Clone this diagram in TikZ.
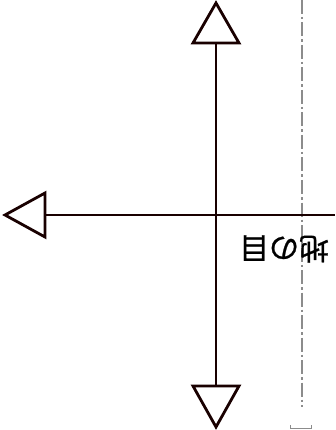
\documentclass[tikz,border=0pt]{standalone}
\usepackage{fontspec}
\newfontfamily\jpfont[FakeBold=0.8]{Noto Sans CJK JP}
\begin{document}
\begin{tikzpicture}[x=1pt,y=-1pt,
  arrowline/.style={line width=2.8pt,draw=black!90!red},
  tri/.style={line width=2.8pt,draw=black!90!red,fill=white,line join=miter},
  grain/.style={draw=black!45,line width=2.2pt,dash pattern=on 14pt off 3pt on 2.5pt off 3pt}]
\useasboundingbox (0,0) rectangle (335,430);
\coordinate (top) at (216,43);
\coordinate (bot) at (216,386);
\coordinate (left) at (45,215);
\coordinate (right) at (335,215);
\coordinate (c) at (216,215);
\coordinate (gtop) at (302,0);
\coordinate (gbot) at (302,407);
\draw[grain] (gtop) -- (gbot);
\draw[arrowline] (top) -- (bot);
\draw[arrowline] (left) -- (right);
\draw[tri] (top) ++(-23,0) -- (216,3) -- (239,43) -- cycle;
\draw[tri] (bot) ++(-23,0) -- (216,427) -- (239,386) -- cycle;
\draw[tri] (left) ++(0,-22) -- (5,215) -- (45,237) -- cycle;
\draw[draw=black!45,line width=1.8pt] (290.5,425) -- (290.5,428.5) -- (311.5,428.5) -- (311.5,425);
\node[rotate=180,font=\jpfont\fontsize{30}{30}\selectfont,inner sep=0pt] (lbl) at (284,249) {地の目};
\end{tikzpicture}
\end{document}
